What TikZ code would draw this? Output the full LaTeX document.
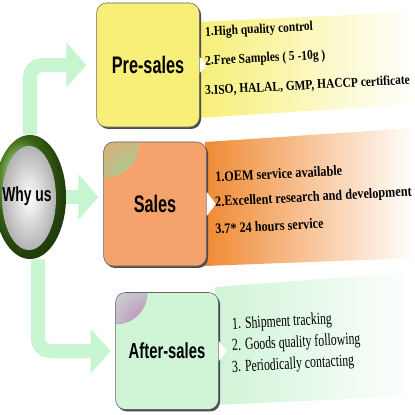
\documentclass[tikz,border=0pt]{standalone}
\usepackage{fontspec}
\usetikzlibrary{arrows.meta,shapes.geometric,shadows}
\newfontfamily\headfont[FakeStretch=0.68]{Liberation Sans}
\newfontfamily\itemfont[FakeStretch=0.85]{Liberation Serif}
\newfontfamily\itemnarrow[FakeStretch=0.7]{Liberation Serif}
\definecolor{mint}{HTML}{C6F5D0}
\definecolor{salgreen}{HTML}{98D49A}
\definecolor{preyellow}{HTML}{F7EF78}
\definecolor{salorange}{HTML}{F5A26C}
\definecolor{bandorange}{HTML}{F08A34}
\definecolor{aftgreen}{HTML}{CFF4D6}
\definecolor{ringgreen}{HTML}{4F8C1C}
\begin{document}
\begin{tikzpicture}[x=0.025cm,y=-0.025cm,
  stagebox/.style={draw=black!60, rounded corners=0.25cm, minimum width=2.57cm, minimum height=3.1cm,
    font=\headfont\bfseries\fontsize{17}{20}\selectfont,
    drop shadow={shadow xshift=1.2pt,shadow yshift=-1.4pt,fill=black!70,opacity=1}},
  flowarrow/.style={draw=mint, line width=0.35cm, rounded corners=0.3cm, -{Triangle[width=1.1cm,length=0.5cm]}},
  itemline/.style={anchor=west, rotate=3, inner sep=0pt}]
\useasboundingbox (0,0) rectangle (415,415);
\clip (0,0) rectangle (415,415);
\fill[white] (0,0) rectangle (415,415);
% bands behind the boxes
\shade[left color=preyellow, middle color=preyellow!70, right color=white] (198,22) -- (415,12) -- (415,104) -- (198,118) -- cycle;
\shade[left color=bandorange, middle color=bandorange!75, right color=white] (205,142) -- (415,128) -- (415,258) -- (205,266) -- cycle;
\shade[left color=aftgreen, right color=white] (215,287) -- (415,272) -- (415,396) -- (215,405) -- cycle;

\node[stagebox, fill=preyellow] (pre) at (148,65) {Pre-sales};
\node[stagebox, fill=salorange, path picture={\shade[inner color=salgreen, outer color=salorange] (path picture bounding box.north west) circle (0.9cm);}] (sal) at (155,204) {Sales};
\node[stagebox, fill=aftgreen, minimum height=2.925cm, font=\headfont\bfseries\fontsize{15.5}{18}\selectfont,
  path picture={\shade[inner color=violet!55, outer color=aftgreen] (path picture bounding box.north west) circle (0.8cm);}] (aft) at (167,351) {After-sales};
\fill[white] (pre.east) ++(0,-8) -- ++(7,8) -- ++(-7,8) -- cycle;
\fill[white] (sal.east) ++(0,-12) -- ++(9,12) -- ++(-9,12) -- cycle;
\fill[white] (aft.east) ++(0,-10) -- ++(8,10) -- ++(-8,10) -- cycle;

% the ring
\node[ellipse, minimum width=1.8cm, minimum height=3.1cm, inner sep=0pt, shading=ball, ball color=ringgreen] (whyus) at (30,197) {};
\shade[inner color=white, outer color=black!30] (29,198) ellipse [x radius=27, y radius=52];
\node[font=\headfont\bfseries\fontsize{14.5}{17}\selectfont] (whylabel) at (27,196) {Why us};

\draw[flowarrow, shorten >=0.25cm] (whyus.north) |- (pre.west);
\draw[flowarrow, shorten >=0.12cm] (whyus.east) -- (whyus.east -| sal.west);
\draw[flowarrow, shorten >=0.12cm] ([xshift=0.2cm]whyus.south) |- (aft.west);

\foreach \t [count=\i] in {1.High quality control, {2.Free Samples ( 5 -10g )}, {3.ISO, HALAL, GMP, HACCP certificate}}
  \node[itemline, font=\itemfont\bfseries\fontsize{9.6}{11}\selectfont] (pre\i) at (205,{33+29*(\i-1)}) {\t};
\foreach \t [count=\i] in {1.OEM service available, 2.Excellent research and development, 3.7* 24 hours service}
  \node[itemline, font=\itemfont\bfseries\fontsize{10.2}{12}\selectfont] (sal\i) at (215,{177+26*(\i-1)}) {\t};
\foreach \t [count=\i] in {1. Shipment tracking, 2. Goods quality following, 3. Periodically contacting}
  \node[itemline, font=\itemnarrow\fontsize{12}{14}\selectfont] (aft\i) at (232,{325+21.5*(\i-1)}) {\t};
\end{tikzpicture}
\end{document}
